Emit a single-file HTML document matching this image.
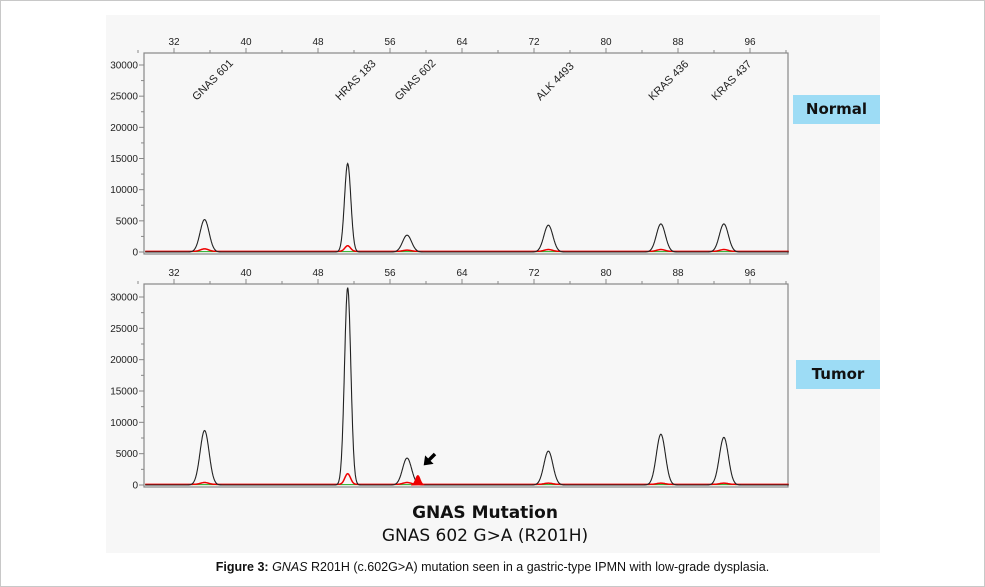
<!DOCTYPE html>
<html><head><meta charset="utf-8"><style>
body{margin:0;width:985px;height:587px;background:#fff;font-family:"Liberation Sans",sans-serif;position:relative;overflow:hidden}
#frame{position:absolute;left:0;top:0;width:983px;height:585px;border:1px solid #c8c8c8}
#panel{position:absolute;left:106px;top:15px;width:774px;height:538px;background:#f7f7f7}
.tag{position:absolute;background:#9ddcf5;font-family:"DejaVu Sans",sans-serif;font-weight:bold;font-size:15px;text-align:center;color:#111}
#cap{position:absolute;left:0;width:985px;top:560px;text-align:center;font-size:12.5px;color:#111}
</style></head><body>
<div id="frame"></div>
<div id="panel"></div>
<div class="tag" style="left:793px;top:95px;width:87px;height:29px;line-height:29px">Normal</div>
<div class="tag" style="left:796px;top:360px;width:84px;height:29px;line-height:29px">Tumor</div>
<svg id="chart" width="985" height="587" style="position:absolute;left:0;top:0"></svg>
<div style="position:absolute;left:300px;width:370px;top:503px;text-align:center;font-family:'DejaVu Sans',sans-serif;font-weight:bold;font-size:17px;color:#111">GNAS Mutation</div>
<div style="position:absolute;left:300px;width:370px;top:526px;text-align:center;font-family:'DejaVu Sans',sans-serif;font-size:17px;color:#111">GNAS 602 G&gt;A (R201H)</div>
<div id="cap"><b>Figure 3:</b> <i>GNAS</i> R201H (c.602G&gt;A) mutation seen in a gastric-type IPMN with low-grade dysplasia.</div>
<script>
const xTicks=[32,40,48,56,64,72,80,88,96];
const yTicks=[0,5000,10000,15000,20000,25000,30000];
const peakLabels=["GNAS 601","HRAS 183","GNAS 602","ALK 4493","KRAS 436","KRAS 437"];
const peakPos=[35.4,51.3,57.9,73.6,86.1,93.1];
const normalBlack=[5200,14200,2700,4300,4500,4500];
const tumorBlack=[8700,31500,4300,5400,8100,7600];
const normalRed=[400,900,200,300,300,300];
const tumorRed=[300,1700,300,200,200,200];
const mutantPos=59.1, mutantHeight=1500;
const svg=document.getElementById('chart');const NS='http://www.w3.org/2000/svg';
function mk(t,a,p){const e=document.createElementNS(NS,t);for(const k in a)e.setAttribute(k,a[k]);(p||svg).appendChild(e);return e;}
const X=v=>174+(v-32)*9;
function panel(top,y0,ymax,black,red,name,labels){
  const Y=v=>y0-(v/30000)*(y0-ymax);
  const g=mk('g',{});
  
  
  mk('rect',{x:144,y:top,width:644,height:y0+2-top,fill:'#f7f7f7',stroke:'#888','stroke-width':1.2},g);
  for(let v=28;v<=100;v+=4){mk('line',{x1:X(v),x2:X(v),y1:top,y2:top-(v%8==0?5:3),stroke:'#888'},g);}
  xTicks.forEach(v=>{const t=mk('text',{x:X(v),y:top-8,'font-size':10,'text-anchor':'middle',fill:'#222'},g);t.textContent=v;});
  for(let v=0;v<=30000;v+=2500){mk('line',{x1:144,x2:v%5000==0?139:141,y1:Y(v),y2:Y(v),stroke:'#888'},g);}
  yTicks.forEach(v=>{const t=mk('text',{x:138,y:Y(v)+3.5,'font-size':10,'text-anchor':'end',fill:'#222'},g);t.textContent=v;});
  function path(hs,sig,extra){let d='';for(let v=28.8;v<=100.3;v+=0.05){let h=0;hs.forEach((H,i)=>{const s=i==1?sig*0.7:sig;h+=H*Math.exp(-((v-peakPos[i])**2)/(2*s*s));});if(extra)h+=extra(v);d+=(d?'L':'M')+X(v).toFixed(1)+','+Y(h).toFixed(1);}return d;}
  const gl=mk('path',{d:path(red.map(()=>0),0.4,v=>60),stroke:'#2a2',fill:'none','stroke-width':1},g);
  
  const rl=mk('path',{d:path(red,0.45,v=>100),stroke:'#e00',fill:'none','stroke-width':1.5},g);
  
  const bl=mk('path',{d:path(black,0.5),stroke:'#222',fill:'none','stroke-width':1.1},g);
  
  if(labels){peakLabels.forEach((l,i)=>{const x=X(peakPos[i])-8,y=101;const t=mk('text',{x:x,y:y,'font-size':11,fill:'#222',transform:`rotate(-45 ${x} ${y})`},g);t.textContent=l;});}
  return {Y,g};
}
panel(53,252,65,normalBlack,normalRed,'normal-panel',true);
const t=panel(284,485,297,tumorBlack,tumorRed,'tumor-panel',false);
let d='M'+X(mutantPos-0.7)+','+t.Y(0);for(let v=mutantPos-0.7;v<=mutantPos+0.7;v+=0.05){d+='L'+X(v).toFixed(1)+','+t.Y(mutantHeight*Math.exp(-((v-mutantPos)**2)/(2*0.25*0.25))).toFixed(1);}d+='Z';
const mp=mk('path',{d:d,fill:'#e00',stroke:'#e00'});

const ar=mk('g',{transform:'translate(435,454) rotate(135)'});

mk('line',{x1:0,y1:0,x2:10,y2:0,stroke:'#000','stroke-width':3.5},ar);
mk('polygon',{points:'8,-6 16,0 8,6',fill:'#000'},ar);
</script>
</body></html>
